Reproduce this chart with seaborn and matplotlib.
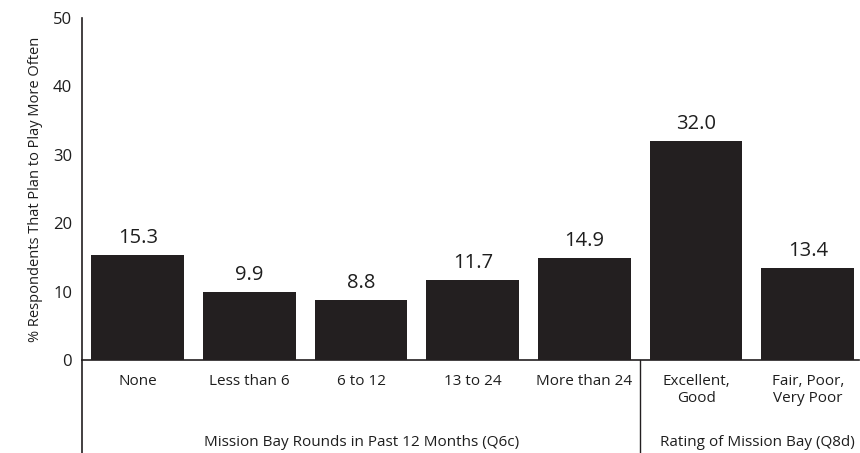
import matplotlib
matplotlib.use("Agg")
import matplotlib.pyplot as plt
import matplotlib.transforms as mtransforms
import seaborn as sns
import pandas as pd

categories = ["None", "Less than 6", "6 to 12", "13 to 24", "More than 24",
              "Excellent,\nGood", "Fair, Poor,\nVery Poor"]
values = [15.3, 9.9, 8.8, 11.7, 14.9, 32.0, 13.4]
value_labels = ["15.3", "9.9", "8.8", "11.7", "14.9", "32.0", "13.4"]
group_names = ["Mission Bay Rounds in Past 12 Months (Q6c)", "Rating of Mission Bay (Q8d)"]
group_sizes = [5, 2]
y_ticks = [0, 10, 20, 30, 40, 50]
y_title = "% Respondents That Plan to Play More Often"

sns.set_style("white")
plt.rcParams["font.family"] = ["Open Sans", "DejaVu Sans"]

ink = "#231f20"
txt = "#1e1e1e"

df = pd.DataFrame({"category": categories, "value": values})

fig = plt.figure(figsize=(8.6, 4.53), dpi=100)
ax = fig.add_axes([0.0953, 0.2053, 0.9037, 0.755])

sns.barplot(data=df, x="category", y="value", color=ink, saturation=1,
            width=0.83, ax=ax, linewidth=0)

ax.set_xlim(-0.5, 6.46)
ax.set_ylim(0, 50)
ax.set_yticks(y_ticks)
ax.set_yticklabels([str(t) for t in y_ticks], fontsize=12, color=txt)
ax.tick_params(axis="y", length=0, pad=7)
ax.tick_params(axis="x", length=0, pad=10, labelsize=11, labelcolor=txt)
ax.set_xlabel("")
ax.set_ylabel(y_title, fontsize=10.5, color=txt, labelpad=7)

for s in ["top", "right"]:
    ax.spines[s].set_visible(False)
for s in ["left", "bottom"]:
    ax.spines[s].set_color(ink)
    ax.spines[s].set_linewidth(1.2)

# value labels on top of each bar
for i, (v, lab) in enumerate(zip(values, value_labels)):
    ax.annotate(lab, (i, v), xytext=(0, 5), textcoords="offset points",
                ha="center", va="bottom", fontsize=14.5, color=txt)

# extend the y axis line and add a group separator below the plot
blend = mtransforms.blended_transform_factory(ax.transData, ax.transAxes)
ax.plot([-0.5, -0.5], [0, -0.28], transform=blend, color=ink, lw=1.2,
        clip_on=False)
boundary = group_sizes[0] - 0.5
ax.plot([boundary, boundary], [0, -0.28], transform=blend, color=ink, lw=1.0,
        clip_on=False)

# group captions
start = -0.5
centers = []
for n in group_sizes:
    centers.append(start + n / 2)
    start += n
ax.text(centers[0], -0.24, group_names[0], transform=blend, ha="center",
        va="center", fontsize=11, color=txt)
ax.text(centers[1] + 0.05, -0.24, group_names[1], transform=blend, ha="center",
        va="center", fontsize=11, color=txt)

fig.savefig("out.png", dpi=100)
